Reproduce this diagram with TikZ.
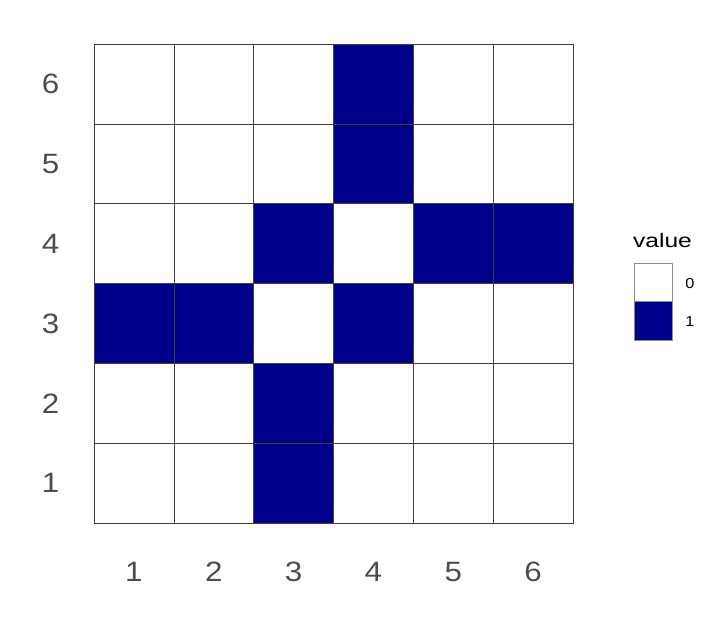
\documentclass[tikz,border=0pt]{standalone}
\usepackage{fontspec}
\setmainfont{Liberation Sans}
\definecolor{tileblue}{HTML}{00008B}
\definecolor{axtext}{HTML}{4D4D4D}
\newcommand{\axnum}[1]{\scalebox{1.12}[1]{#1}}
\begin{document}
\begin{tikzpicture}[x=1pt,y=-1pt,
  tile/.style={draw=black!75,line width=0.5pt},
  ax/.style={text=axtext,font=\fontsize{28}{28}\selectfont,inner sep=0pt},
  leg/.style={draw=black!45,line width=0.6pt},
  legtxt/.style={text=black,font=\fontsize{14.5}{14.5}\selectfont,inner sep=0pt}]
\useasboundingbox (0,0) rectangle (720,640);
\def\cs{79.83}
% tiles: row r from bottom (1..6), col c (1..6)
\foreach \r/\c/\v in {
 6/1/0,6/2/0,6/3/0,6/4/1,6/5/0,6/6/0,
 5/1/0,5/2/0,5/3/0,5/4/1,5/5/0,5/6/0,
 4/1/0,4/2/0,4/3/1,4/4/0,4/5/1,4/6/1,
 3/1/1,3/2/1,3/3/0,3/4/1,3/5/0,3/6/0,
 2/1/0,2/2/0,2/3/1,2/4/0,2/5/0,2/6/0,
 1/1/0,1/2/0,1/3/1,1/4/0,1/5/0,1/6/0}{
  \ifnum\v=1 \def\fc{tileblue}\else\def\fc{white}\fi
  \path[tile,fill=\fc] ({94+(\c-1)*\cs},{44+(6-\r)*\cs}) rectangle ++(\cs,\cs);
}
% axis labels
\foreach \i in {1,...,6}{
  \node[ax] (x\i) at ({94+(\i-0.5)*\cs},572) {\axnum{\i}};
  \node[ax] (y\i) at (50.5,{44+(6.5-\i)*\cs}) {\axnum{\i}};
}
% legend
\node[text=black,font=\fontsize{19.5}{19.5}\selectfont,inner sep=0pt] (lt) at (662.5,240.5) {\scalebox{1.26}[1]{value}};
\node[leg,fill=white,minimum width=38pt,minimum height=38.5pt,inner sep=0pt,anchor=north west] (l0) at (634,262.5) {};
\node[leg,fill=tileblue,minimum width=38pt,minimum height=38.5pt,inner sep=0pt,anchor=north west] (l1) at (634,301) {};
\node[legtxt] (t0) at (690,283.5) {\scalebox{1.12}[1]{0}};
\node[legtxt] (t1) at (690,322) {\scalebox{1.12}[1]{1}};
\end{tikzpicture}
\end{document}
